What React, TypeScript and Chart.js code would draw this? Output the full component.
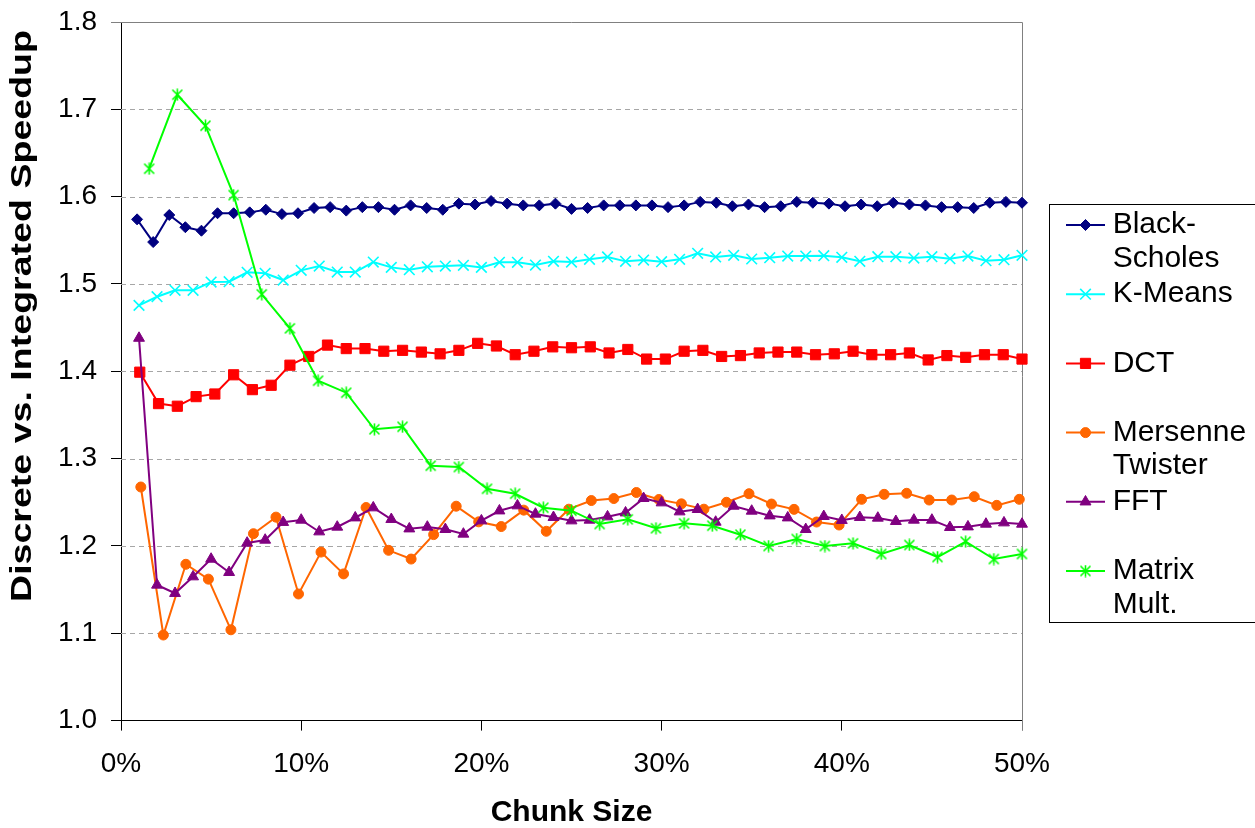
import React, { useEffect, useRef } from "react";
import { Chart, registerables } from "chart.js";
import { drawPoint } from "chart.js/helpers";

Chart.register(...registerables);

// ---- Data (chunk size in %, speedup) ----
const seriesNames = ["Black-Scholes", "K-Means", "DCT", "Mersenne Twister", "FFT", "Matrix Mult."];
const legendLabels = [["Black-", "Scholes"], ["K-Means"], ["DCT"], ["Mersenne", "Twister"], ["FFT"], ["Matrix", "Mult."]];
const xTitle = "Chunk Size";
const yTitle = "Discrete vs. Integrated Speedup";

// chunk-size grids used by each benchmark (evenly spaced chunk sizes)
const steps = (count: number, step: number, start: number) =>
  Array.from({ length: count }, (_, i) => +(start + i * step).toFixed(4));
const xBlackScholes = steps(56, 100 / 112, 100 / 112);
const xKMeans = steps(50, 1, 1);
const xDCT = steps(48, 100 / 96, 100 / 96);
const xMersenne = steps(40, 1.25, 1.1);
const xFFT = steps(50, 1, 1);
const xMatrix = steps(32, 100 / 64, 100 / 64);

const blackScholes = [
  1.574, 1.548, 1.579, 1.565, 1.561, 1.581, 1.581, 1.582, 1.585, 1.580,
  1.581, 1.587, 1.588, 1.584, 1.588, 1.588, 1.585, 1.590, 1.587, 1.585,
  1.592, 1.591, 1.595, 1.592, 1.590, 1.590, 1.592, 1.586, 1.587, 1.590,
  1.590, 1.590, 1.590, 1.588, 1.590, 1.594, 1.593, 1.589, 1.591, 1.588,
  1.589, 1.594, 1.593, 1.592, 1.589, 1.591, 1.589, 1.593, 1.591, 1.590,
  1.588, 1.588, 1.587, 1.593, 1.594, 1.593,
];
const kMeans = [
  1.4755, 1.4854, 1.4927, 1.4927, 1.5022, 1.5026, 1.5133, 1.5122, 1.5045, 1.5156,
  1.5205, 1.5137, 1.5137, 1.5251, 1.519, 1.5163, 1.5197, 1.5205, 1.5214, 1.519,
  1.5248, 1.5248, 1.5217, 1.5259, 1.5251, 1.5282, 1.5309, 1.5259, 1.5274, 1.5255,
  1.5282, 1.5351, 1.5309, 1.5328, 1.5286, 1.5301, 1.532, 1.532, 1.5324, 1.5305,
  1.526, 1.5312, 1.5312, 1.5297, 1.5312, 1.5289, 1.532, 1.5266, 1.5278, 1.5328,
];
const dct = [
  1.399, 1.363, 1.360, 1.371, 1.374, 1.396, 1.379, 1.384, 1.407, 1.417,
  1.430, 1.426, 1.426, 1.423, 1.424, 1.422, 1.420, 1.424, 1.432, 1.429,
  1.419, 1.423, 1.428, 1.427, 1.428, 1.421, 1.425, 1.414, 1.414, 1.423,
  1.424, 1.417, 1.418, 1.421, 1.422, 1.422, 1.419, 1.420, 1.423, 1.419,
  1.419, 1.421, 1.413, 1.418, 1.416, 1.419, 1.419, 1.414,
];
const mersenne = [
  1.2675, 1.098, 1.179, 1.162, 1.104, 1.214, 1.233, 1.145, 1.193, 1.168,
  1.244, 1.195, 1.185, 1.213, 1.2455, 1.2276, 1.2222, 1.241, 1.2168, 1.2421,
  1.252, 1.2543, 1.2612, 1.2532, 1.2482, 1.2421, 1.250, 1.2598, 1.248, 1.2419,
  1.2274, 1.224, 1.2534, 1.2591, 1.2603, 1.2526, 1.2526, 1.2564, 1.2465, 1.2534,
];
const fft = [
  1.438, 1.1553, 1.1458, 1.1648, 1.185, 1.1698, 1.2034, 1.2068, 1.2271, 1.2297,
  1.2163, 1.2217, 1.2323, 1.2438, 1.2305, 1.2197, 1.2217, 1.219, 1.2137, 1.2289,
  1.2403, 1.2461, 1.2366, 1.2328, 1.2289, 1.2297, 1.2335, 1.238, 1.2545, 1.2495,
  1.2392, 1.2419, 1.2274, 1.2457, 1.24, 1.2346, 1.2323, 1.219, 1.2339, 1.2294,
  1.2328, 1.232, 1.2282, 1.2297, 1.2297, 1.2213, 1.222, 1.2251, 1.2266, 1.2251,
];
const matrixMult = [
  1.632, 1.7167, 1.6812, 1.6018, 1.4881, 1.4492, 1.3892, 1.3755, 1.3336, 1.3365,
  1.2919, 1.2904, 1.2655, 1.2598, 1.2438, 1.2404, 1.2251, 1.2305, 1.2202, 1.2259,
  1.2232, 1.2129, 1.1999, 1.2079, 1.1999, 1.203, 1.1908, 1.2011, 1.1873, 1.2049,
  1.185, 1.1908,
];

const xTickValues = [0, 10, 20, 30, 40, 50];
const yTickValues = [1.0, 1.1, 1.2, 1.3, 1.4, 1.5, 1.6, 1.7, 1.8];

const colors = ["#000080", "#00FFFF", "#FF0000", "#FF6600", "#800080", "#00FF00"];

const FONT = "'Liberation Sans', Arial, Helvetica, sans-serif";

function makeAsterisk(color: string) {
  const c = document.createElement("canvas");
  c.width = 13;
  c.height = 13;
  const g = c.getContext("2d")!;
  g.strokeStyle = color;
  g.lineWidth = 1.6;
  g.beginPath();
  g.moveTo(6.5, 0.5);
  g.lineTo(6.5, 12.5);
  g.moveTo(1.5, 1.5);
  g.lineTo(11.5, 11.5);
  g.moveTo(11.5, 1.5);
  g.lineTo(1.5, 11.5);
  g.stroke();
  return c;
}

const framePlugin = {
  id: "excelFrame",
  beforeDatasetsDraw(chart: any) {
    const { ctx, chartArea } = chart;
    const { left, right, top, bottom } = chartArea;
    const y = chart.scales.y;
    ctx.save();
    ctx.lineWidth = 1;
    ctx.strokeStyle = "#a6a6a6";
    ctx.setLineDash([5, 4]);
    y.ticks.forEach((t: any) => {
      if (t.value <= 1.0001 || t.value >= 1.7999) return;
      const py = Math.round(y.getPixelForValue(t.value)) + 0.5;
      ctx.beginPath();
      ctx.moveTo(left, py);
      ctx.lineTo(right, py);
      ctx.stroke();
    });
    ctx.setLineDash([]);
    ctx.strokeStyle = "#808080";
    const ty = Math.round(top) + 0.5;
    const rx = Math.round(right) + 0.5;
    ctx.beginPath();
    ctx.moveTo(left, ty);
    ctx.lineTo(rx, ty);
    ctx.lineTo(rx, bottom + 10);
    ctx.stroke();
    ctx.restore();
  },
};

// y-axis title drawn like the original (glyphs elongated along the text direction)
const yTitlePlugin = {
  id: "excelYTitle",
  afterDraw(chart: any) {
    const { ctx } = chart;
    ctx.save();
    ctx.font = `bold 30px ${FONT}`;
    ctx.fillStyle = "#000000";
    ctx.textAlign = "center";
    ctx.textBaseline = "middle";
    const w = ctx.measureText(yTitle).width;
    const target = 572;
    ctx.translate(22.5, 316);
    ctx.rotate(-Math.PI / 2);
    ctx.scale(target / w, 1);
    ctx.fillText(yTitle, 0, 0);
    ctx.restore();
  },
};

const legendPlugin = {
  id: "excelLegend",
  afterDraw(chart: any) {
    const { ctx } = chart;
    ctx.save();
    ctx.fillStyle = "#ffffff";
    ctx.fillRect(1050, 205, 210, 417);
    ctx.strokeStyle = "#000000";
    ctx.lineWidth = 1;
    ctx.strokeRect(1049.5, 204.5, 230, 418);
    ctx.font = `30px ${FONT}`;
    ctx.textBaseline = "middle";
    ctx.textAlign = "left";
    chart.data.datasets.forEach((ds: any, k: number) => {
      const cy = 225 + k * 69.2;
      ctx.setLineDash([]);
      ctx.strokeStyle = ds.borderColor;
      ctx.lineWidth = 2;
      ctx.beginPath();
      ctx.moveTo(1066, cy);
      ctx.lineTo(1105, cy);
      ctx.stroke();
      ctx.fillStyle = ds.pointBackgroundColor;
      ctx.strokeStyle = ds.pointBorderColor;
      ctx.lineWidth = ds.pointBorderWidth;
      drawPoint(ctx, { pointStyle: ds.pointStyle, radius: ds.pointRadius, borderWidth: ds.pointBorderWidth, rotation: 0 } as any, 1085.5, cy);
      ctx.fillStyle = "#000000";
      legendLabels[k].forEach((t, j) => ctx.fillText(t, 1112.7, cy + j * 33.5));
    });
    ctx.restore();
  },
};

export default function App() {
  const ref = useRef<HTMLCanvasElement | null>(null);

  useEffect(() => {
    document.body.style.margin = "0";
    const canvas = ref.current!;
    const star = makeAsterisk(colors[5]);
    const xs = [xBlackScholes, xKMeans, xDCT, xMersenne, xFFT, xMatrix];
    const ys = [blackScholes, kMeans, dct, mersenne, fft, matrixMult];
    const styles: any[] = ["rectRot", "crossRot", "rect", "circle", "triangle", star];
    const radii = [5.5, 7.5, 7.2, 5, 6.3, 6];
    const bw = [1, 1.6, 1, 1, 1, 1];

    const datasets = seriesNames.map((name, k) => ({
      label: name,
      data: xs[k].map((x, i) => ({ x, y: ys[k][i] })),
      borderColor: colors[k],
      backgroundColor: colors[k],
      borderWidth: 2,
      pointStyle: styles[k],
      pointRadius: radii[k],
      pointBorderWidth: bw[k],
      pointBackgroundColor: colors[k],
      pointBorderColor: colors[k],
      tension: 0,
      clip: false as any,
      order: 5 - k,
    }));

    const chart = new Chart(canvas, {
      type: "line",
      data: { datasets },
      options: {
        animation: false,
        responsive: false,
        devicePixelRatio: 1,
        events: [],
        layout: { padding: { top: 22, right: 233, left: 0, bottom: 0 } },
        plugins: { legend: { display: false }, tooltip: { enabled: false } },
        scales: {
          x: {
            type: "linear",
            min: 0,
            max: 50,
            afterFit: (s: any) => {
              s.height = 107.4;
              s.paddingLeft = 0;
              s.paddingRight = 0;
            },
            afterBuildTicks: (s: any) => { s.ticks = xTickValues.map((v) => ({ value: v })); },
            ticks: {
              callback: (v: any) => `${v}%`,
              font: { family: FONT, size: 28 },
              color: "#000",
              padding: 17,
              maxRotation: 0,
            },
            grid: {
              drawOnChartArea: false,
              drawTicks: true,
              tickLength: 10,
              tickColor: (c: any) => (c.tick && c.tick.value === 50 ? "#808080" : "#000000"),
            },
            border: { display: true, color: "#000000", width: 1 },
            title: {
              display: true,
              text: xTitle,
              color: "#000",
              font: { family: FONT, size: 30, weight: "bold", lineHeight: 1 },
              padding: { top: 0, bottom: 0 },
            },
          },
          y: {
            type: "linear",
            min: 1.0,
            max: 1.8,
            afterFit: (s: any) => {
              s.width = 121;
              s.paddingTop = 0;
              s.paddingBottom = 0;
            },
            afterBuildTicks: (s: any) => { s.ticks = yTickValues.map((v) => ({ value: v })); },
            ticks: {
              callback: (v: any) => Number(v).toFixed(1),
              font: { family: FONT, size: 28 },
              color: "#000",
              padding: 14,
            },
            grid: {
              drawOnChartArea: false,
              drawTicks: true,
              tickLength: 10,
              tickColor: (c: any) => (c.tick && c.tick.value >= 1.7999 ? "#808080" : "#000000"),
            },
            border: { display: true, color: "#000000", width: 1 },
            title: { display: false },
          },
        },
      },
      plugins: [framePlugin, yTitlePlugin, legendPlugin],
    });
    return () => chart.destroy();
  }, []);

  return (
    <div style={{ width: 1255, height: 828, position: "relative", background: "#fff" }}>
      <canvas ref={ref} width={1255} height={828} style={{ display: "block" }} role="img" aria-label={`${yTitle} by ${xTitle}`} />
    </div>
  );
}
